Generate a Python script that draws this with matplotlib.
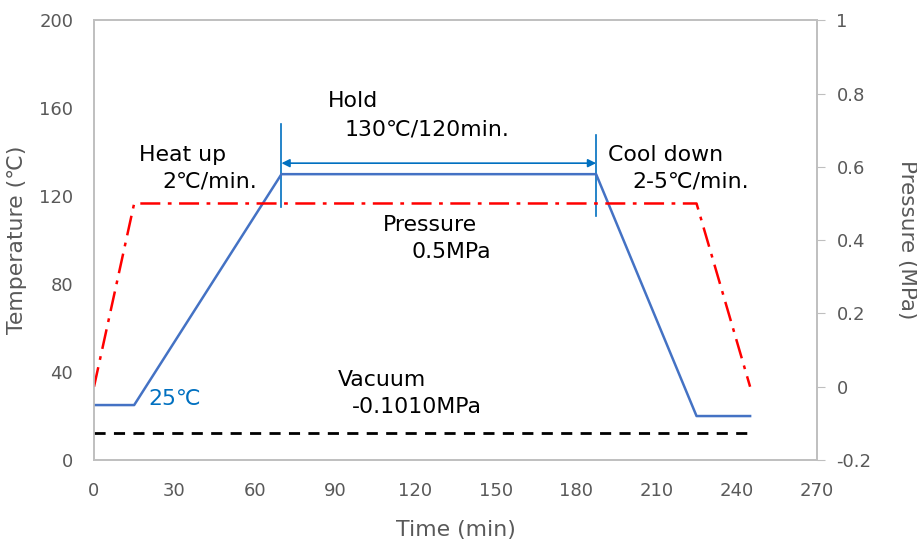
import matplotlib
matplotlib.use("Agg")
import matplotlib.pyplot as plt

plt.rcParams['font.family'] = ['DejaVu Sans', 'Noto Sans CJK JP']

# temperature profile (left axis)
time_temp = [0, 15, 70, 187.5, 225, 245]
temp = [25, 25, 130, 130, 20, 20]

# pressure profile (right axis)
time_pres = [0, 15, 225, 245]
pres = [0, 0.5, 0.5, 0]

# vacuum level (right axis, as drawn)
time_vac = [0, 245]
vac = [-0.125, -0.125]

hold_start, hold_end = 70, 187.5
hold_arrow_y = 135

gray = "#595959"
spine_gray = "#BFBFBF"
blue = "#4472C4"
blue2 = "#0070C0"

fig = plt.figure(figsize=(9.17, 5.47), dpi=100)
ax = fig.add_axes([0.1025, 0.159, 0.7885, 0.804])
ax2 = ax.twinx()

ax.plot(time_temp, temp, color=blue, lw=1.8, zorder=3)
ax2.plot(time_pres, pres, color="red", lw=1.8, linestyle=(0, (8, 3, 1.5, 3)))
ax2.plot(time_vac, vac, color="black", lw=2, linestyle=(0, (4, 3)))

# hold markers
ax.plot([hold_start, hold_start], [115, 153], color=blue2, lw=1.2)
ax.plot([hold_end, hold_end], [111, 148], color=blue2, lw=1.2)
ax.annotate("", xy=(hold_start, hold_arrow_y), xytext=(hold_end, hold_arrow_y),
            arrowprops=dict(arrowstyle="<|-|>", color=blue2, lw=1.2,
                            mutation_scale=12, shrinkA=0, shrinkB=0))

ax.set_xlim(0, 270)
ax.set_ylim(0, 200)
ax2.set_ylim(-0.2, 1)
ax.set_xticks(range(0, 271, 30))
ax.set_yticks(range(0, 201, 40))
ax2.set_yticks([-0.2, 0, 0.2, 0.4, 0.6, 0.8, 1])
ax2.set_yticklabels(["-0.2", "0", "0.2", "0.4", "0.6", "0.8", "1"])

for a in (ax, ax2):
    for s in a.spines.values():
        s.set_color(spine_gray)
        s.set_linewidth(1.2)
ax.tick_params(axis="both", length=0, labelsize=13, labelcolor=gray)
ax.tick_params(axis="y", pad=15)
ax.tick_params(axis="x", pad=16)
ax2.tick_params(axis="y", length=6, color=spine_gray, labelsize=13,
                labelcolor=gray, pad=8)

ax.set_xlabel("Time (min)", fontsize=15.8, color=gray, labelpad=14)
ax.set_ylabel("Temperature (℃)", fontsize=15.8, color=gray, labelpad=9)
ax2.set_ylabel("Pressure (MPa)", fontsize=15.5, color=gray, rotation=270,
               labelpad=33)

fs = 15.8
kw = dict(fontsize=fs, va="center", ha="left", color="black")
ax.text(87.4, 163.2, "Hold", **kw)
ax.text(93.4, 150.5, "130℃/120min.", **kw)
ax.text(16.8, 138.6, "Heat up", **kw)
ax.text(25.4, 126.8, "2℃/min.", **kw)
ax.text(191.9, 138.6, "Cool down", **kw)
ax.text(200.9, 126.8, "2-5℃/min.", **kw)
ax.text(107.9, 106.8, "Pressure", **kw)
ax.text(118.7, 94.5, "0.5MPa", **kw)
ax.text(91.1, 36.4, "Vacuum", **kw)
ax.text(96.3, 24.1, "-0.1010MPa", **kw)
ax.text(20.2, 27.7, "25℃", fontsize=fs, va="center", ha="left", color=blue2)

fig.savefig("out.png", dpi=100)
